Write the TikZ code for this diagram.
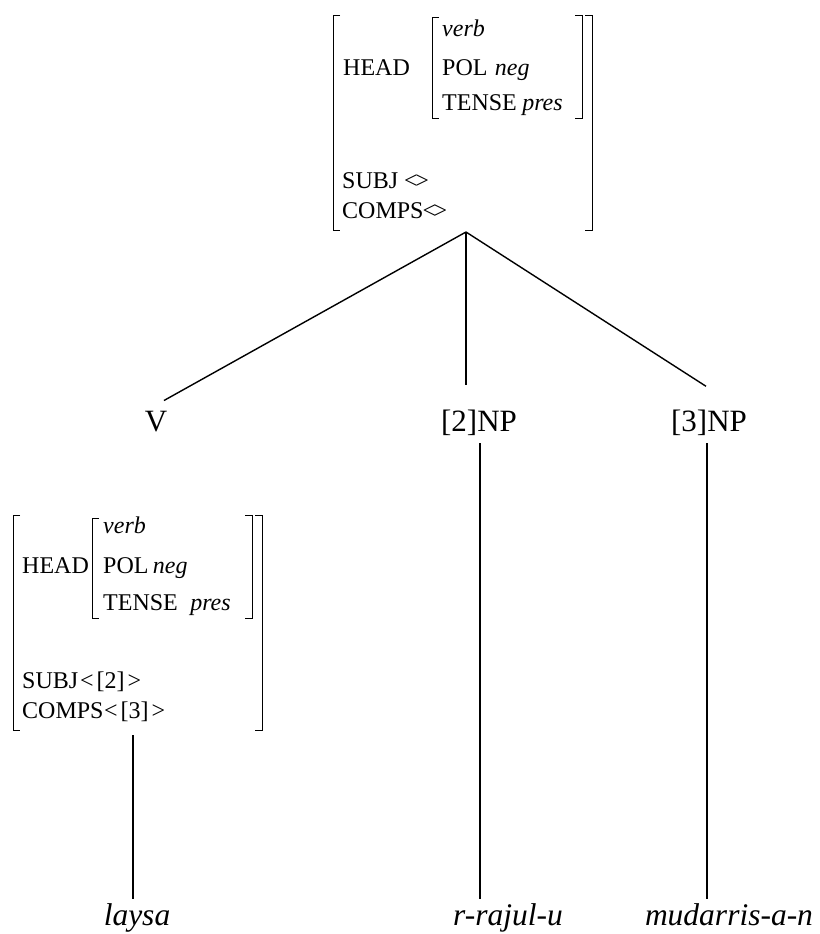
\documentclass[tikz,border=0pt]{standalone}
\usepackage{fontspec}
\setmainfont{Liberation Serif}
\usetikzlibrary{calc}
\begin{document}
\begin{tikzpicture}[x=1pt,y=-1pt,
  avm/.style={font=\fontsize{24}{28}\selectfont, anchor=base west, inner sep=0pt},
  avmi/.style={avm, font=\fontsize{24}{28}\selectfont\itshape},
  lab/.style={font=\fontsize{31}{36}\selectfont, anchor=base, inner sep=0pt},
  leaf/.style={font=\fontsize{31.5}{36}\selectfont\itshape, anchor=base, inner sep=0pt},
  brk/.style={line width=0.9pt},
  edge/.style={line width=1.4pt}]
\useasboundingbox (0,0) rectangle (819,934);

% ---------- top AVM ----------
\draw[brk] (340,15) -- (333,15) -- (333,230) -- (340,230);
\draw[brk] (585,15) -- (592,15) -- (592,230) -- (585,230);
\draw[brk] (439,17) -- (432,17) -- (432,118) -- (439,118);
\draw[brk] (575,15) -- (582,15) -- (582,118) -- (575,118);
\node[avmi] (t1) at (442,37) {verb};
\node[avm]  (t2) at (343,75) {HEAD};
\node[avm]  (t3) at (442,75) {POL};
\node[avmi] (t4) at ($(t3.base east)+(7,0)$) {neg};
\node[avm]  (t5) at (442,110) {TENSE};
\node[avmi] (t6) at ($(t5.base east)+(5,0)$) {pres};
\node[avm]  (t7) at (342,188) {SUBJ <\kern-2.5pt>};
\node[avm]  (t8) at (342,218) {COMPS\kern-1pt<\kern-2.5pt>};

% ---------- bottom AVM ----------
\draw[brk] (20,515) -- (13,515) -- (13,730) -- (20,730);
\draw[brk] (255,515) -- (262,515) -- (262,730) -- (255,730);
\draw[brk] (99,518) -- (92,518) -- (92,618) -- (99,618);
\draw[brk] (245,515) -- (252,515) -- (252,618) -- (245,618);
\node[avmi] (b1) at (103,533) {verb};
\node[avm]  (b2) at (22,573) {HEAD};
\node[avm]  (b3) at (103,573) {POL};
\node[avmi] (b4) at ($(b3.base east)+(4,0)$) {neg};
\node[avm]  (b5) at (103,610) {TENSE};
\node[avmi] (b6) at ($(b5.base east)+(12,0)$) {pres};
\node[avm]  (b7) at (22,688) {SUBJ\kern2pt<\kern3pt[2]\kern3pt>};
\node[avm]  (b8) at (22,718) {COMPS\kern0.5pt<\kern3pt[3]\kern3pt>};

% ---------- tree ----------
\coordinate (apex) at (466,232);
\coordinate (avmfoot) at (133,735);
\node[lab] (V) at (156,431) {V};
\node[lab] (NP2) at (479,431) {[2]NP};
\node[lab] (NP3) at (709,431) {[3]NP};
\node[leaf] (L1) at (137,925) {laysa};
\node[leaf] (L2) at (508,925) {r-rajul-u};
\node[leaf] (L3) at (729,925) {mudarris-a-n};

\draw[edge] (apex) -- ($(V.north)+(8,-10)$);
\draw[edge] (apex) -- ($(apex |- NP2.north)+(0,-24)$);
\draw[edge] (apex) -- ($(NP3.north)+(-3,-23)$);
\draw[edge] (avmfoot) -- ($(avmfoot |- L1.north)+(0,-4)$);
\draw[edge] ($(NP2.south)+(1,8)$) -- ($(NP2.south |- L2.north)+(1,-4)$);
\draw[edge] ($(NP3.south)+(-2,8)$) -- ($(NP3.south |- L3.north)+(-2,-4)$);
\end{tikzpicture}
\end{document}
